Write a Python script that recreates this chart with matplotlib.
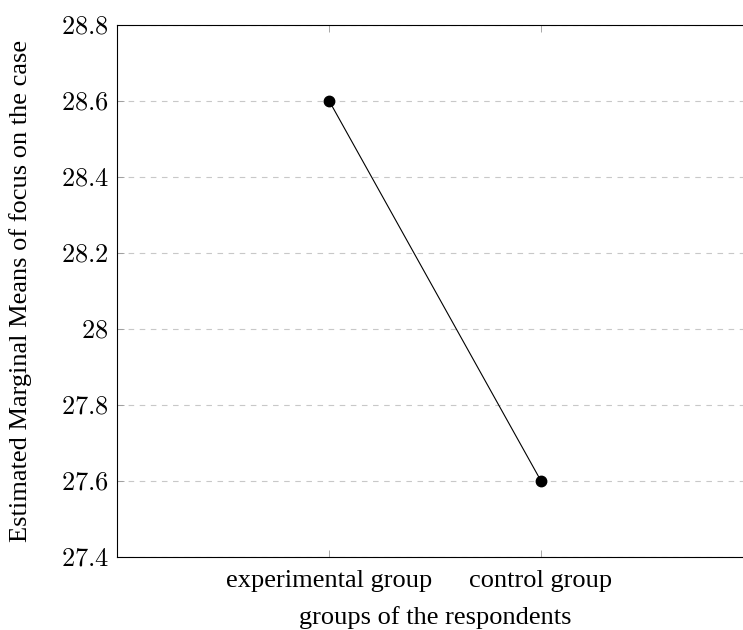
import matplotlib
matplotlib.use("Agg")
import matplotlib.pyplot as plt
import numpy as np

groups = ["experimental group", "control group"]
means = [28.6, 27.6]
y_ticks = [27.4, 27.6, 27.8, 28.0, 28.2, 28.4, 28.6, 28.8]
y_tick_labels = ["27.4", "27.6", "27.8", "28", "28.2", "28.4", "28.6", "28.8"]

plt.rcParams["mathtext.fontset"] = "cm"
plt.rcParams["font.family"] = ["Liberation Serif", "DejaVu Serif"]

fig = plt.figure(figsize=(7.43, 6.30), dpi=100)
# right edge of the axes lies outside the figure, as in the reference
ax = fig.add_axes([117 / 743, 1 - 557 / 630, 636 / 743, 532.5 / 630])

x = np.arange(len(groups))
ax.plot(x, means, color="black", linewidth=0.8, marker="o", markersize=7.5,
        zorder=3)

ax.set_xlim(-1, 2)
ax.set_ylim(27.4, 28.8)
ax.set_xticks(x)
ax.set_xticklabels(groups, fontsize=19)
ax.set_yticks(y_ticks)
ax.set_yticklabels(["$" + t + "$" for t in y_tick_labels], fontsize=19)

ax.grid(axis="y", color="#c8c8c8", linestyle=(0, (5, 5)), linewidth=0.8)
ax.tick_params(direction="in", length=5, width=0.6, color="#999999",
               top=True, right=True, pad=6)
ax.tick_params(axis="x", pad=9)
for sp in ax.spines.values():
    sp.set_linewidth(0.8)
    sp.set_color("black")

ax.set_xlabel("groups of the respondents", fontsize=19)
ax.set_ylabel("Estimated Marginal Means of focus on the case", fontsize=19)
ax.xaxis.set_label_coords(0.5, -0.092)
ax.yaxis.set_label_coords(-0.134, 0.5)

fig.savefig("out.png", dpi=100)
